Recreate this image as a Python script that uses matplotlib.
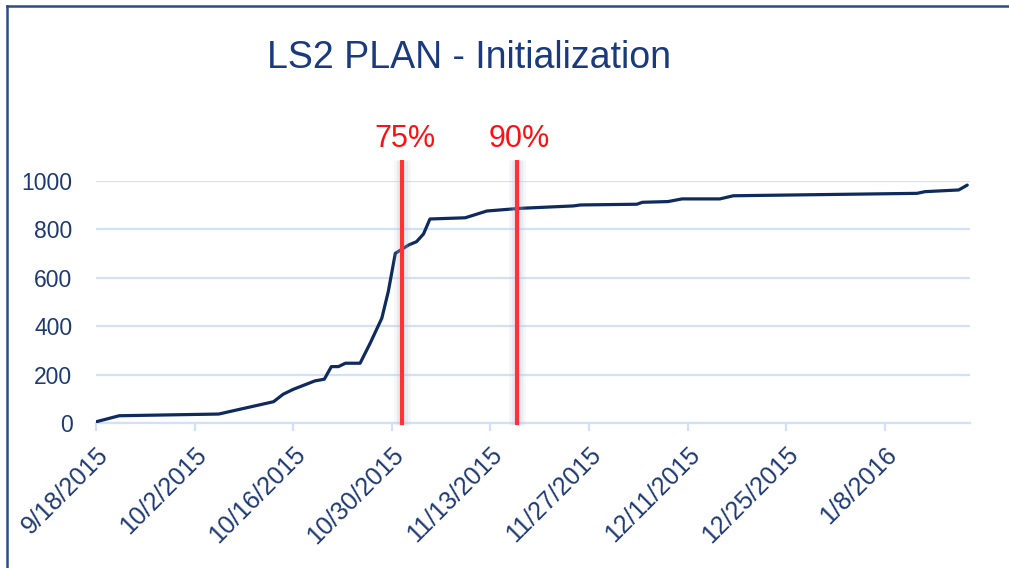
import pandas as pd
import matplotlib.pyplot as plt
import matplotlib.dates as mdates
from matplotlib.lines import Line2D

# cumulative count over time
dates = ["2015-09-18 00:00", "2015-09-21 07:00", "2015-10-05 10:00", "2015-10-13 05:00",
         "2015-10-14 14:00", "2015-10-16 00:00", "2015-10-19 02:00", "2015-10-20 10:00",
         "2015-10-21 10:00", "2015-10-22 10:00", "2015-10-23 10:00", "2015-10-25 12:00",
         "2015-10-26 22:00", "2015-10-28 14:00", "2015-10-29 12:00", "2015-10-30 12:00",
         "2015-11-01 10:00", "2015-11-02 12:00", "2015-11-03 12:00", "2015-11-04 10:00",
         "2015-11-09 10:00", "2015-11-12 12:00", "2015-11-17 05:00", "2015-11-24 19:00",
         "2015-11-25 19:00", "2015-12-03 19:00", "2015-12-04 14:00", "2015-12-08 05:00",
         "2015-12-10 05:00", "2015-12-15 14:00", "2015-12-17 12:00", "2016-01-12 14:00",
         "2016-01-13 17:00", "2016-01-18 12:00", "2016-01-19 17:00"]
values = [5, 30, 37, 88, 119, 139, 174, 181, 233, 233, 247, 247, 329, 433, 543, 701,
          736, 749, 781, 843, 848, 876, 887, 897, 901, 904, 912, 915, 926, 926, 939,
          949, 956, 963, 983]

marker_dates = ["2015-10-31 12:00", "2015-11-16 17:00"]
marker_labels = ["75%", "90%"]

title = "LS2 PLAN - Initialization"
navy = "#1F3A73"
grid_col = "#D3E1F7"
red = "#FF3333"

plt.rcParams["font.family"] = ["Liberation Sans", "DejaVu Sans"]

x = pd.to_datetime(dates)
mx = pd.to_datetime(marker_dates)

fig = plt.figure(figsize=(10.09, 5.68), dpi=100)
ax = fig.add_axes([96 / 1009, 1 - 423 / 568, (970 - 96) / 1009, (423 - 181) / 568])

ax.plot(x, values, color="#0E2A5E", lw=2.3, solid_capstyle="round", zorder=3)

# red milestone lines with a soft shadow
for d, lab in zip(mx, marker_labels):
    for w, a in [(12, 0.12), (8, 0.18)]:
        ax.plot([d, d], [-8, 1085], color="#B8BCD0", lw=w, alpha=a, clip_on=False,
                zorder=4, solid_capstyle="butt")
    ax.plot([d, d], [-8, 1085], color=red, lw=3, clip_on=False, zorder=5,
            solid_capstyle="butt")
    ax.text(d + pd.Timedelta(hours=8), 1112, lab, color="#FF1010", fontsize=22,
            ha="center", va="bottom")

start = pd.Timestamp("2015-09-18")
ax.set_xlim(start, start + pd.Timedelta(days=124.1))
ax.set_ylim(0, 1000)
ax.set_yticks([0, 200, 400, 600, 800, 1000])
ticks = pd.date_range(start, periods=9, freq="14D")
ax.set_xticks(ticks)
ax.xaxis.set_major_formatter(mdates.DateFormatter("%-m/%-d/%Y"))

for s in ["top", "right", "left"]:
    ax.spines[s].set_visible(False)
ax.spines["bottom"].set_color(grid_col)
ax.spines["bottom"].set_linewidth(1.6)
ax.grid(axis="y", color=grid_col, lw=1.6, zorder=0)
ax.set_axisbelow(True)
ax.tick_params(axis="y", length=0, pad=17, labelsize=16.5, labelcolor=navy)
ax.tick_params(axis="x", length=6, width=1.6, color=grid_col, pad=8,
               labelsize=18, labelcolor=navy)
for lbl in ax.get_xticklabels():
    lbl.set_rotation(45)
    lbl.set_ha("right")
    lbl.set_rotation_mode("anchor")

fig.text(469 / 1009, 1 - 58 / 568, title, color="#1A3A80", fontsize=27,
         ha="center", va="center")

# outer frame
fig.add_artist(Line2D([7 / 1009, 7 / 1009], [0, 1 - 6 / 568], color="#2B4C8C", lw=1.8))
fig.add_artist(Line2D([7 / 1009, 1], [1 - 6 / 568, 1 - 6 / 568], color="#2B4C8C", lw=1.8))

fig.savefig("out.png", dpi=100)
